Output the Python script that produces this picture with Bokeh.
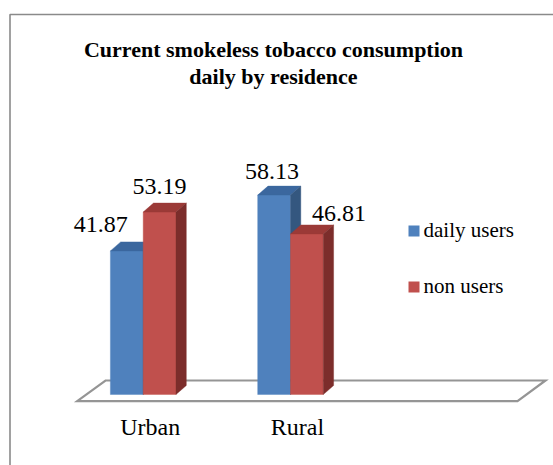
from bokeh.plotting import figure
from bokeh.models import Range1d
from bokeh.core.properties import value
from bokeh.embed import file_html
from bokeh.resources import INLINE

# --- data -------------------------------------------------------------
categories = ["Urban", "Rural"]
series_names = ["daily users", "non users"]
daily_users = [41.87, 58.13]
non_users = [53.19, 46.81]

title_lines = ["Current smokeless tobacco consumption", "daily by residence"]

# --- layout (pixels) --------------------------------------------------
W, H = 553, 465
X_SEAM0 = 142.7      # pixel x of the first group's centre seam
X_STEP = 147.3       # pixels between groups
Y_ZERO = 394.0       # pixel y of the value 0
K = 3.43             # pixels per value unit
RAISE = -8.5         # vertical nudge applied to every text (px, negative = up)

def xd(px):
    return (px - X_SEAM0) / X_STEP

def yd(py):
    return (Y_ZERO - py) / K

BAR_W = 32.8 / X_STEP
DEPTH_X = 10.3 / X_STEP
DEPTH_Y = 9.0 / K

SERIF = value("Liberation Serif")

colors = {
    "daily users": ("#4F81BD", "#3B679E", "#34577F"),
    "non users": ("#C0504D", "#9B3A37", "#7C2D2B"),
}

p = figure(width=W, height=H, output_backend="svg", toolbar_location=None,
           x_range=Range1d(xd(0), xd(W)), y_range=Range1d(yd(H), yd(0)),
           min_border=0, outline_line_color=None)
p.axis.visible = False
p.grid.visible = False
p.background_fill_color = "white"
p.border_fill_color = "white"

# chart area frame (left and top edges)
p.line([xd(9.5), xd(9.5), xd(W + 5)], [yd(H + 5), yd(14), yd(14)],
       line_color="#8A8A8A", line_width=1.6)

# floor of the 3-D plot
floor_x = [xd(76.7), xd(517), xd(545), xd(105)]
floor_y = [yd(400.7), yd(400.7), yd(380), yd(380)]
p.patch(floor_x, floor_y, fill_color="white", line_color="#959595",
        line_width=2.2, line_join="miter")

# 3-D bars: front, top and side faces per bar
xs, ys, fills = [], [], []
label_x, label_y, label_txt = [], [], []
for i, cat in enumerate(categories):
    for j, (name, vals) in enumerate(zip(series_names, [daily_users, non_users])):
        v = vals[i]
        left = i - BAR_W + j * BAR_W
        right = left + BAR_W
        front, top, side = colors[name]
        xs.append([left, right, right, left]); ys.append([0, 0, v, v]); fills.append(front)
        xs.append([left, left + DEPTH_X, right + DEPTH_X, right])
        ys.append([v, v + DEPTH_Y, v + DEPTH_Y, v]); fills.append(top)
        xs.append([right, right + DEPTH_X, right + DEPTH_X, right])
        ys.append([0, DEPTH_Y, v + DEPTH_Y, v]); fills.append(side)
        label_x.append((left + right) / 2)
        label_y.append(v)
        label_txt.append(f"{v:.2f}")

p.patches(xs, ys, fill_color=fills, line_color=fills, line_width=0.4)

# value labels, nudged clear of neighbouring bars
label_dx = [-26, 0, -2, 32]
label_dy = [d + RAISE for d in (-17.7, -16.7, -15.3, -12.3)]
p.text(label_x, label_y, text=label_txt, x_offset=label_dx, y_offset=label_dy,
       text_font=SERIF, text_font_size=value("24px"), text_color="black",
       text_align="center", text_baseline="alphabetic")

# category labels
p.text([i + 7 / X_STEP for i in range(len(categories))], [yd(435)] * len(categories),
       text=categories, y_offset=RAISE, text_font=SERIF, text_font_size=value("24px"),
       text_color="black", text_align="center", text_baseline="alphabetic")

# title
p.text([xd(273)] * 2, [yd(57.3), yd(84)], text=title_lines, y_offset=RAISE,
       text_font=SERIF, text_font_size=value("22px"), text_font_style="bold",
       text_color="black", text_align="center", text_baseline="alphabetic")

# legend
leg_top = [225, 281]
for k, name in enumerate(series_names):
    p.quad(left=xd(408), right=xd(419), top=yd(leg_top[k]), bottom=yd(leg_top[k] + 11),
           fill_color=colors[name][0], line_color=None)
    p.text([xd(423)], [yd(leg_top[k] + 13.3)], text=[name], y_offset=RAISE,
           text_font=SERIF, text_font_size=value("21px"), text_color="black",
           text_align="left", text_baseline="alphabetic")

open("out.html", "w").write(file_html(p, INLINE))
